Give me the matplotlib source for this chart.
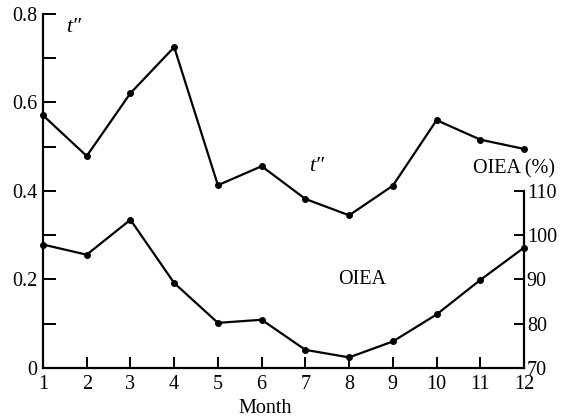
import matplotlib
matplotlib.use("Agg")
import matplotlib.pyplot as plt
from matplotlib.ticker import FixedLocator, FixedFormatter

months = [1, 2, 3, 4, 5, 6, 7, 8, 9, 10, 11, 12]
t_values = [0.571, 0.479, 0.621, 0.725, 0.413, 0.456, 0.382, 0.345, 0.412, 0.560, 0.516, 0.495]
oiea_values = [97.9, 95.6, 103.5, 89.2, 80.2, 80.9, 74.1, 72.4, 76.0, 82.1, 89.9, 97.2]
left_ticks = [0, 0.2, 0.4, 0.6, 0.8]
left_labels = ["0", "0.2", "0.4", "0.6", "0.8"]
left_minor = [0.1, 0.3, 0.5, 0.7]
right_ticks = [70, 80, 90, 100, 110]
right_labels = ["70", "80", "90", "100", "110"]

FONT = ["Liberation Serif", "DejaVu Serif"]
plt.rcParams['font.family'] = FONT
FS = 14.5

fig = plt.figure(figsize=(5.64, 4.19), dpi=100)
ax = fig.add_axes([0.0762, 0.1217, 0.853, 0.845])
ax.plot(months, t_values, color="black", lw=1.6, marker="o", ms=4, clip_on=False)
ax.set_xlim(1, 12)
ax.set_ylim(0, 0.8)
ax.spines["top"].set_visible(False)
ax.spines["right"].set_visible(False)
for s in ["left", "bottom"]:
    ax.spines[s].set_linewidth(1.6)
ax.set_xticks(months)
ax.set_xticklabels([str(m) for m in months])
ax.yaxis.set_major_locator(FixedLocator(left_ticks))
ax.yaxis.set_major_formatter(FixedFormatter(left_labels))
ax.yaxis.set_minor_locator(FixedLocator(left_minor))
ax.tick_params(axis="both", which="both", direction="in", width=1.4, labelsize=FS)
ax.tick_params(axis="y", which="both", length=9, pad=4)
ax.tick_params(axis="x", length=8, pad=5)

ax2 = ax.twinx()
ax2.plot(months, oiea_values, color="black", lw=1.6, marker="o", ms=4, clip_on=False)
ax2.set_ylim(70, 150)
for s in ["top", "left", "bottom"]:
    ax2.spines[s].set_visible(False)
ax2.spines["right"].set_bounds(70, 110)
ax2.spines["right"].set_linewidth(1.6)
ax2.set_yticks(right_ticks)
ax2.set_yticklabels(right_labels)
ax2.tick_params(axis="y", direction="in", length=7, width=1.4, pad=2, labelsize=FS)

ax.text(1.69, 0.77, "t\u2033", fontsize=FS + 1, style="italic", ha="center", va="center")
ax.text(7.25, 0.455, "t\u2033", fontsize=FS + 1, style="italic", ha="center", va="center")
ax.text(8.3, 0.2, "OIEA", fontsize=FS, ha="center", va="center")
ax.text(11.78, 0.45, "OIEA (%)", fontsize=FS, ha="center", va="center", clip_on=False)
fig.text(265 / 564, 1 - 408 / 419, "Month", fontsize=FS, ha="center", va="center")

fig.savefig("out.png", dpi=100)
